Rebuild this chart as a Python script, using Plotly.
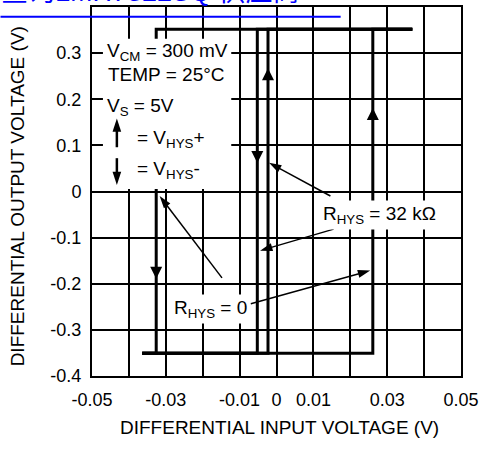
import plotly.graph_objects as go

# ---------------- data ----------------
x_tick_vals = [-0.05, -0.03, -0.01, 0, 0.01, 0.03, 0.05]
x_tick_text = ["-0.05", "-0.03", "-0.01", "0", "0.01", "0.03", "0.05"]
y_tick_vals = [0.4, 0.3, 0.2, 0.1, 0, -0.1, -0.2, -0.3, -0.4]
y_tick_text = ["0.4", "0.3", "0.2", "0.1", "0", "-0.1", "-0.2", "-0.3", "-0.4"]

# R_HYS = 0 : rising and falling paths
rhys0_rise_x = [-0.0364, -0.0023, -0.0023, 0.0368]
rhys0_rise_y = [-0.3507, -0.3507, 0.352, 0.352]
rhys0_fall_x = [0.0368, -0.0052, -0.0052, -0.0364]
rhys0_fall_y = [0.352, 0.352, -0.3507, -0.3507]

# R_HYS = 32 kOhm : rising and falling paths
rhys32_rise_x = [-0.0364, 0.0261, 0.0261, 0.0368]
rhys32_rise_y = [-0.3507, -0.3507, 0.352, 0.352]
rhys32_fall_x = [0.0368, -0.0326, -0.0326, -0.0364]
rhys32_fall_y = [0.352, 0.352, -0.3507, -0.3507]

# direction arrows drawn on the curves
arrow_up_x = [-0.0023, 0.0261]
arrow_up_y = [0.267, 0.181]
arrow_down_x = [-0.0052, -0.0326]
arrow_down_y = [0.062, -0.189]

# ---------------- geometry helpers ----------------
W, H = 484, 451
L, R, T, B = 92, 21, 5, 75
PW, PH = W - L - R, H - T - B
XR = (-0.05, 0.05)
YR = (-0.4, 0.4)


def dx(px):
    return XR[0] + (px - L) / PW * (XR[1] - XR[0])


def dy(py):
    return YR[1] - (py - T) / PH * (YR[1] - YR[0])


def paper_x(px):
    return (px - L) / PW


def paper_y(py):
    return 1 - (py - T) / PH


FONT = "Liberation Sans, Arial, sans-serif"
LINE_W = 3

fig = go.Figure()
for xs, ys in [(rhys0_rise_x, rhys0_rise_y), (rhys0_fall_x, rhys0_fall_y),
               (rhys32_rise_x, rhys32_rise_y), (rhys32_fall_x, rhys32_fall_y)]:
    fig.add_trace(go.Scatter(x=xs, y=ys, mode="lines",
                             line=dict(color="black", width=LINE_W),
                             showlegend=False, hoverinfo="skip"))

fig.add_trace(go.Scatter(x=arrow_up_x, y=arrow_up_y, mode="markers",
                         marker=dict(symbol="arrow-up", size=12, color="black", opacity=1,
                                     line=dict(width=0)),
                         showlegend=False, hoverinfo="skip"))
fig.add_trace(go.Scatter(x=arrow_down_x, y=arrow_down_y, mode="markers",
                         marker=dict(symbol="arrow-down", size=12, color="black", opacity=1,
                                     line=dict(width=0)),
                         showlegend=False, hoverinfo="skip"))

# white backing for the conditions block (hides grid and curve behind it)
bx0, bx1, by0, by1 = dx(103), dx(232), dy(188), dy(37)
fig.add_trace(go.Scatter(x=[bx0, bx1, bx1, bx0, bx0], y=[by0, by0, by1, by1, by0],
                         mode="lines", fill="toself", fillcolor="white",
                         line=dict(color="rgba(0,0,0,0)", width=0),
                         showlegend=False, hoverinfo="skip"))


def arrow_trace(tail, head, width, size):
    fig.add_trace(go.Scatter(x=[dx(tail[0]), dx(head[0])], y=[dy(tail[1]), dy(head[1])],
                             mode="lines+markers",
                             line=dict(color="black", width=width),
                             marker=dict(symbol="arrow", size=[0, size], angleref="previous",
                                         color="black", opacity=1, line=dict(width=0)),
                             showlegend=False, hoverinfo="skip"))


# legend glyph arrows (up = V_HYS+, down = V_HYS-)
arrow_trace((117, 146), (117, 117), 2.5, 14)
arrow_trace((117, 157), (117, 184), 2.5, 14)

# pointer arrows from the curve labels
for tail, head in [((222.7, 277.3), (160, 195)), ((251.7, 303.3), (371.7, 270)),
                   ((331.7, 195), (270, 161.7)), ((335, 228.3), (261, 250))]:
    arrow_trace(tail, head, 1.5, 13)

annotations = []
SZ = 19


def text_ann(text, left_px, base_px, size=SZ, sub=True, bg=None, pad=1):
    mid = base_px - (0.23 if sub else 0.35) * size
    a = dict(text=text, x=dx(left_px), y=dy(mid), xref="x", yref="y",
             xanchor="left", yanchor="middle", showarrow=False,
             font=dict(family=FONT, size=size, color="black"), borderpad=pad)
    if bg:
        a["bgcolor"] = bg
    annotations.append(a)


# conditions block
text_ann("V<sub>CM</sub> = 300 mV", 105, 55)
text_ann("TEMP = 25°C", 106.5, 80, sub=False)
text_ann("V<sub>S</sub> = 5V", 105, 110)
text_ann("= V<sub>HYS</sub>+", 135, 141.7)
text_ann("= V<sub>HYS</sub>-", 135, 173.3)

# curve labels
text_ann("R<sub>HYS</sub> = 0", 171.5, 313.3, bg="white", pad=2)
text_ann("R<sub>HYS</sub> = 32 kΩ", 321.5, 218.3, bg="white", pad=2)

# axis titles
annotations.append(dict(text="DIFFERENTIAL INPUT VOLTAGE (V)", x=paper_x(280.5), y=paper_y(427.5),
                        xref="paper", yref="paper", xanchor="center", yanchor="middle",
                        showarrow=False, font=dict(family=FONT, size=19, color="black")))
annotations.append(dict(text="DIFFERENTIAL OUTPUT VOLTAGE (V)", x=paper_x(18), y=paper_y(195),
                        xref="paper", yref="paper", xanchor="center", yanchor="middle",
                        textangle=-90, showarrow=False,
                        font=dict(family=FONT, size=19, color="black")))

# watermark link text (cut off at top)
annotations.append(dict(text="查询LMH7322SQ 供应商", x=paper_x(-2), y=paper_y(-10.5),
                        xref="paper", yref="paper", xanchor="left", yanchor="middle",
                        showarrow=False,
                        font=dict(family="Liberation Sans, Noto Sans CJK SC, sans-serif",
                                  size=27, color="#0000ff")))

shapes = [
    dict(type="line", xref="paper", yref="paper", x0=paper_x(0), x1=paper_x(342),
         y0=paper_y(14.7), y1=paper_y(14.7), line=dict(color="#0000ff", width=2), layer="above"),
]

axis_common = dict(showline=True, mirror=True, linewidth=2, linecolor="black",
                   showgrid=True, gridcolor="black", gridwidth=1.5, zeroline=False,
                   ticks="", tickfont=dict(family=FONT, size=18, color="black"))

fig.update_layout(
    width=W, height=H,
    margin=dict(l=L, r=R, t=T, b=B),
    paper_bgcolor="white", plot_bgcolor="white",
    xaxis=dict(range=list(XR), tickmode="array", tickvals=x_tick_vals, ticktext=x_tick_text,
               minor=dict(dtick=0.01, tick0=0, showgrid=True, gridcolor="black", gridwidth=1.5),
               ticklabelstandoff=6, **axis_common),
    yaxis=dict(range=list(YR), tickmode="array", tickvals=y_tick_vals, ticktext=y_tick_text,
               ticklabelstandoff=5, **axis_common),
    annotations=annotations,
    shapes=shapes,
    showlegend=False,
)

fig.write_html("out.html", config={"displayModeBar": False},
               post_script="document.body.style.margin='0px';")
